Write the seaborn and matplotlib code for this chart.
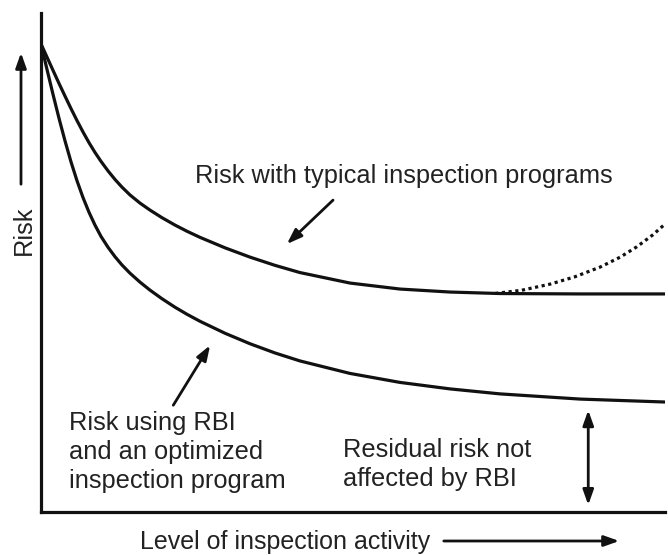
import matplotlib
matplotlib.use("Agg")
import matplotlib.pyplot as plt
from matplotlib.patches import FancyArrowPatch
import seaborn as sns

# level of inspection activity (0-100)
activity = [0, 0.96, 1.92, 2.88, 3.85, 4.81, 5.77, 6.73, 7.69, 8.65, 9.62, 10.74, 11.86,
            12.98, 14.26, 15.87, 17.47, 19.39, 21.47, 23.40, 25.48, 29.49, 33.49, 37.50,
            41.51, 49.52, 57.53, 65.54, 73.56, 86.38, 100]

# risk with typical inspection programs (0-100)
typical_risk = [93.8, 91.16, 88.52, 85.9, 83.34, 80.84, 78.44, 76.16, 74.02, 72.06, 70.26,
                68.36, 66.64, 65.1, 63.54, 61.9, 60.5, 58.98, 57.5, 56.26, 55.04, 52.94,
                51.08, 49.43, 47.98, 45.88, 44.68, 44.08, 43.78, 43.7, 43.7]

# risk using RBI and an optimized inspection program
rbi_risk = [93.8, 88.7, 83.72, 78.92, 74.36, 70.16, 66.38, 63.02, 60.08, 57.5, 55.22,
            53.05, 51.16, 49.5, 47.86, 46.06, 44.46, 42.74, 41.04, 39.62, 38.22, 35.82,
            33.72, 31.87, 30.27, 27.77, 25.97, 24.67, 23.67, 22.63, 22.04]

# dotted branch: risk going up again with too much inspection
worse_x = [72.8, 77.0, 81.6, 85.5, 89.6, 92.8, 95.5, 98.0, 100]
worse_y = [43.8, 44.43, 45.67, 47.11, 49.08, 51.06, 53.16, 55.49, 57.7]

sns.set_style("white")
plt.rcParams["font.family"] = ["Liberation Sans", "DejaVu Sans"]

fig = plt.figure(figsize=(6.68, 5.55), dpi=100)
ax = fig.add_axes([41 / 668, 43 / 555, 624 / 668, 499 / 555])

ink = "#111111"
txt = "#222222"
fs = 18.3

sns.lineplot(x=activity, y=typical_risk, ax=ax, color=ink, lw=2.3)
sns.lineplot(x=activity, y=rbi_risk, ax=ax, color=ink, lw=2.3)
sns.lineplot(x=worse_x, y=worse_y, ax=ax, color=ink, lw=2.3, linestyle=(0, (1, 1.1)))

ax.set_xlim(0, 100)
ax.set_ylim(0, 100)
ax.set_xticks([])
ax.set_yticks([])
sns.despine(ax=ax, top=True, right=True)
for s in ["left", "bottom"]:
    ax.spines[s].set_linewidth(2.3)
    ax.spines[s].set_color(ink)

ax.text(24.7, 66.0, "Risk with typical inspection programs", fontsize=fs, color=txt,
        ha="left", va="baseline")
for i, line in enumerate(["Risk using RBI", "and an optimized", "inspection program"]):
    ax.text(4.5, 16.4 - i * 5.8, line, fontsize=fs, color=txt, ha="left", va="baseline")
for i, line in enumerate(["Residual risk not", "affected by RBI"]):
    ax.text(48.4, 11.1 - i * 5.8, line, fontsize=fs, color=txt, ha="left", va="baseline")

head = "-|>,head_length=0.9,head_width=0.32"
arrow = dict(arrowstyle=head, color=ink, lw=2.0, shrinkA=0, shrinkB=0)
ax.annotate("", xy=(39.4, 53.7), xytext=(46.8, 62.5), arrowprops=arrow)
ax.annotate("", xy=(27.1, 33.4), xytext=(21.2, 21.4), arrowprops=arrow)
ax.annotate("", xy=(87.7, 1.4), xytext=(87.7, 20.4),
            arrowprops=dict(arrowstyle="<|-|>,head_length=0.9,head_width=0.32", color=ink,
                            lw=2.0, shrinkA=0, shrinkB=0))

# axis labels with arrows, outside the axes
fig.text(140 / 668, 1 - 549 / 555, "Level of inspection activity", fontsize=18, color=txt,
         ha="left", va="baseline")
fig.text(24 / 668, 1 - 230 / 555, "Risk", fontsize=fs, color=txt, rotation=90,
         ha="center", va="center")
fig.patches.append(FancyArrowPatch(
    (441 / 668, 1 - 541 / 555), (622 / 668, 1 - 541 / 555), transform=fig.transFigure,
    arrowstyle=head, color=ink, lw=2.0, mutation_scale=10))
fig.patches.append(FancyArrowPatch(
    (21 / 668, 1 - 187 / 555), (21 / 668, 1 - 50 / 555), transform=fig.transFigure,
    arrowstyle=head, color=ink, lw=2.0, mutation_scale=10))

fig.savefig("out.png", dpi=100)
